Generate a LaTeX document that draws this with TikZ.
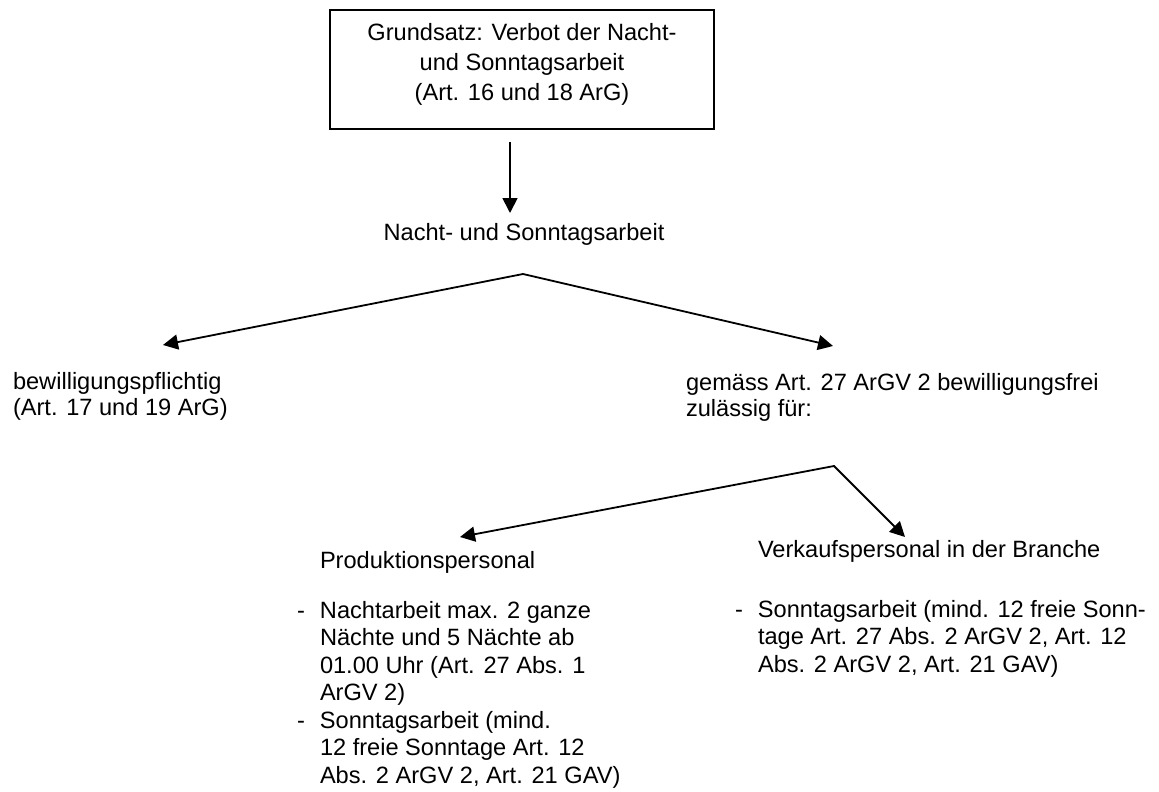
\documentclass[tikz,border=0pt]{standalone}
\usepackage{fontspec}
\setmainfont{Liberation Sans}
\usetikzlibrary{arrows.meta}
\tikzset{
  lbl/.style={inner sep=0pt, outer sep=0pt, align=left, font=\fontsize{23.6}{27.5}\selectfont},
  ctr/.style={inner sep=0pt, outer sep=0pt, align=center, font=\fontsize{23.6}{30}\selectfont},
  conn/.style={line width=1.8pt, -{Triangle[length=15pt,width=15pt]}},
  biconn/.style={line width=1.8pt, {Triangle[length=15pt,width=15pt]}-{Triangle[length=15pt,width=15pt]}, line join=miter},
  frame/.style={draw, line width=1.8pt, minimum width=384pt, minimum height=119pt, inner sep=0pt}
}
\begin{document}
\begin{tikzpicture}[x=1pt,y=-1pt]
\useasboundingbox (0,0) rectangle (1159,792);
% top box
\node[frame] (box) at (522,69.5) {};
\node[ctr, anchor=base] (boxtext) at (522,100.5) {Grundsatz: Verbot der Nacht-\\und Sonntagsarbeit\\(Art. 16 und 18 ArG)};
\coordinate (a0s) at (510,142);
\coordinate (a0e) at (510,213);
\draw[conn] (a0s) -- (a0e);
% level 1
\node[lbl, anchor=base] (ns) at (524,240) {Nacht- und Sonntagsarbeit};
\coordinate (apex1) at (523,274);
\coordinate (tipL1) at (163,345);
\coordinate (tipR1) at (833,346);
\draw[biconn] (tipL1) -- (apex1) -- (tipR1);
\node[lbl, anchor=base west, font=\fontsize{23.6}{26}\selectfont] (bew) at (13,415) {bewilligungspflichtig\\(Art. 17 und 19 ArG)};
\node[lbl, anchor=base west, font=\fontsize{23.6}{26}\selectfont] (frei) at (686,416) {gemäss Art. 27 ArGV 2 bewilligungsfrei\\zulässig für:};
% level 2
\coordinate (apex2) at (834,466);
\coordinate (tipL2) at (460,537);
\coordinate (tipR2) at (905,537);
\draw[biconn] (tipL2) -- (apex2) -- (tipR2);
\node[lbl, anchor=base west] (prod) at (320,568) {Produktionspersonal};
\node[lbl, anchor=base west] (verk) at (758,557) {Verkaufspersonal in der Branche};
\node[lbl, anchor=base west] (prodlist) at (320,783) {\llap{-\hspace{15pt}}Nachtarbeit max. 2 ganze\\Nächte und 5 Nächte ab\\01.00 Uhr (Art. 27 Abs. 1\\ArGV 2)\\\llap{-\hspace{15pt}}Sonntagsarbeit (mind.\\12 freie Sonntage Art. 12\\Abs. 2 ArGV 2, Art. 21 GAV)};
\node[lbl, anchor=base west] (verklist) at (758,672) {\llap{-\hspace{15pt}}Sonntagsarbeit (mind. 12 freie Sonn-\\tage Art. 27 Abs. 2 ArGV 2, Art. 12\\Abs. 2 ArGV 2, Art. 21 GAV)};
\end{tikzpicture}
\end{document}
